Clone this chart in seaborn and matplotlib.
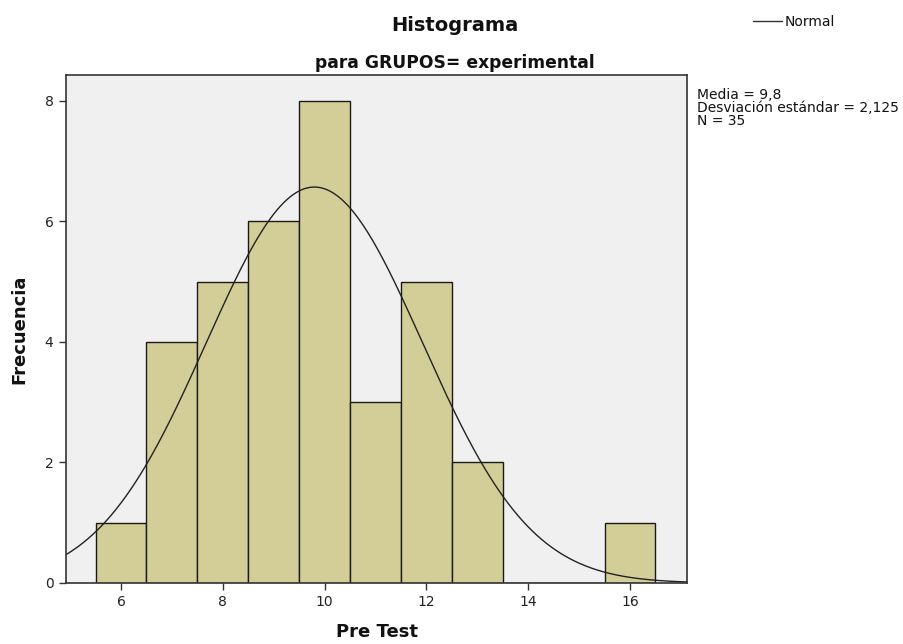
import numpy as np
import pandas as pd
import matplotlib
matplotlib.use("Agg")
import matplotlib.pyplot as plt
import seaborn as sns

# Data
pre_test_values = [6, 7, 8, 9, 10, 11, 12, 13, 14, 15, 16]
frequencies = [1, 4, 5, 6, 8, 3, 5, 2, 0, 0, 1]
media = 9.8
desviacion = 2.125
n_total = 35
x_ticks = [6, 8, 10, 12, 14, 16]
y_ticks = [0, 2, 4, 6, 8]

sns.set_theme(style="white")
plt.rcParams['font.family'] = ['DejaVu Sans']

W, H = 904, 644
fig = plt.figure(figsize=(W/100, H/100), dpi=100)
ax = fig.add_axes([66/W, 1-583/H, (687-66)/W, (583-75)/H])
ax.set_facecolor('#F0F0F0')

df = pd.DataFrame({'Pre Test': pre_test_values, 'Frecuencia': frequencies})
sns.histplot(data=df, x='Pre Test', weights='Frecuencia', discrete=True,
             color='#D3CE97', edgecolor='#1a1a1a', linewidth=1.0, alpha=1,
             ax=ax)

xs = np.linspace(4.9, 17.15, 400)
ys = n_total * 1.0 / (desviacion * np.sqrt(2*np.pi)) * np.exp(-0.5*((xs-media)/desviacion)**2)
sns.lineplot(x=xs, y=ys, color='#222222', linewidth=1.0, ax=ax, zorder=5)

ax.set_xlim(4.92, 17.12)
ax.set_ylim(0, 8.43)
ax.set_xticks(x_ticks)
ax.set_yticks(y_ticks)
ax.tick_params(axis='both', which='both', direction='out', length=5, width=1,
               colors='#333333', labelsize=10, labelcolor='#222222',
               bottom=True, left=True, pad=4)
for s in ax.spines.values():
    s.set_color('#333333')
    s.set_linewidth(1.2)
    s.set_zorder(6)
ax.set_xlabel('Pre Test', fontsize=13, fontweight='bold', labelpad=10, color='#111111')
ax.set_ylabel('Frecuencia', fontsize=13, fontweight='bold', labelpad=12, color='#111111')

fig.text(455/W, 1-31/H, 'Histograma', ha='center', va='baseline',
         fontsize=14, fontweight='bold', color='#111111')
fig.text(455/W, 1-68/H, 'para GRUPOS= experimental', ha='center', va='baseline',
         fontsize=12.3, fontweight='bold', color='#111111')

# legend
fig.lines.append(plt.Line2D([753/W, 782/W], [1-20.5/H, 1-20.5/H],
                            transform=fig.transFigure, color='#333333', linewidth=1))
fig.text(785/W, 1-25.5/H, 'Normal', ha='left', va='baseline', fontsize=10, color='#111111')

stat_lines = [f'Media = {str(media).replace(".", ",")}',
              f'Desviación estándar = {str(desviacion).replace(".", ",")}',
              f'N = {n_total}']
for i, t in enumerate(stat_lines):
    fig.text(697/W, 1-(99+13*i)/H, t, ha='left', va='baseline', fontsize=10, color='#111111')

fig.savefig('out.png', dpi=100)
